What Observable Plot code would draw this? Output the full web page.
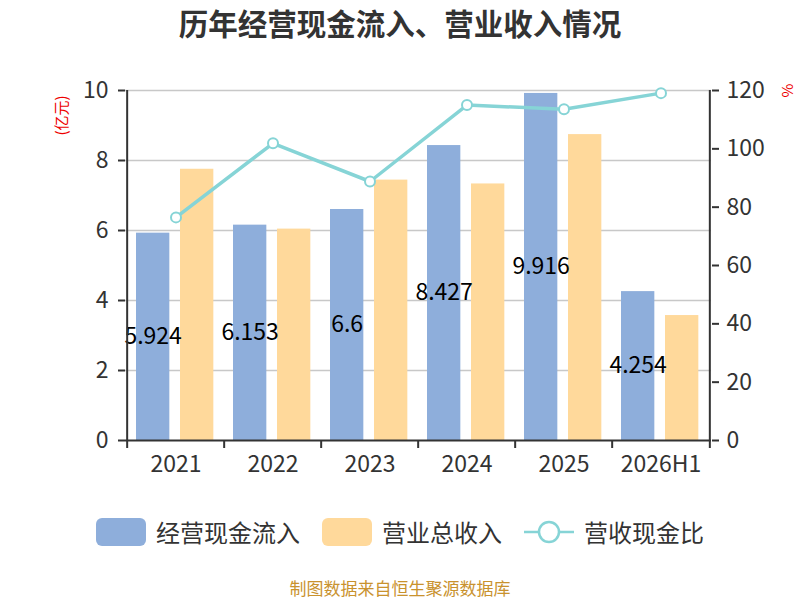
<!DOCTYPE html>
<html><head><meta charset="utf-8">
<script src="https://cdn.jsdelivr.net/npm/d3@7"></script>
<script src="https://cdn.jsdelivr.net/npm/@observablehq/plot@0.6"></script>
<style>
body{margin:0;background:#fff;font-family:"Noto Sans CJK SC","Noto Sans",sans-serif;}
#wrap{position:relative;width:800px;height:600px;}
#title{position:absolute;left:0;top:1px;width:800px;text-align:center;font-size:29.5px;font-weight:bold;color:#333;}
#chart{position:absolute;left:0;top:50px;}
.unit{position:absolute;color:#e00;font-size:15px;transform:rotate(-90deg);transform-origin:center;}
#legend{position:absolute;top:514px;left:0;width:800px;display:flex;justify-content:center;align-items:center;font-size:24px;color:#333;}
.item{display:flex;align-items:center;margin:0 11px;}
.sw{width:50px;height:28px;border-radius:6px;margin-right:10px;}
#caption{position:absolute;top:578px;left:0;width:800px;text-align:center;font-size:17px;line-height:19px;color:#c9922e;}
</style></head>
<body>
<div id="wrap">
<div id="title">历年经营现金流入、营业收入情况</div>
<div id="chart"></div>
<div class="unit" style="left:40px;top:105px;">(亿元)</div>
<div class="unit" style="left:780px;top:80px;">%</div>
<div id="legend"></div>
<div id="caption">制图数据来自恒生聚源数据库</div>
</div>
<script>
const years = ["2021","2022","2023","2024","2025","2026H1"];
const cashIn = [5.924, 6.153, 6.6, 8.427, 9.916, 4.254];
const revenue = [7.75, 6.04, 7.44, 7.33, 8.74, 3.57];
const ratio = [76.5, 101.9, 88.8, 115.0, 113.6, 119.1];
const leftTicks = [0, 2, 4, 6, 8, 10];
const rightTicks = [0, 20, 40, 60, 80, 100, 120];
const seriesNames = ["经营现金流入", "营业总收入", "营收现金比"];
const colors = ["#8eaedb", "#ffd99b", "#86d4d6"];

const W = 800, H = 440, mL = 125, mR = 89, mT = 40, mB = 50;
const bw = (W - mL - mR) / years.length;
const ratioToLeft = 10 / 120;
const cashRows = years.map((y, i) => ({year: y, v: cashIn[i]}));
const revRows = years.map((y, i) => ({year: y, v: revenue[i]}));
const ratioRows = years.map((y, i) => ({year: y, v: ratio[i] * ratioToLeft}));

const plot = Plot.plot({
  width: W, height: H, marginLeft: mL, marginRight: mR, marginTop: mT, marginBottom: mB,
  style: {fontFamily: '"Noto Sans CJK SC","Noto Sans",sans-serif', background: "#fff"},
  x: {type: "band", domain: years, padding: 0, label: null},
  y: {domain: [0, 10], label: null},
  marks: [
    Plot.ruleY(leftTicks.slice(1), {stroke: "#c8c8c8", strokeWidth: 1.5}),
    Plot.barY(cashRows, {x: "year", y: "v", fill: colors[0], insetLeft: 9, insetRight: bw - 43}),
    Plot.barY(revRows, {x: "year", y: "v", fill: colors[1], insetLeft: 53, insetRight: bw - 87}),
    Plot.line(ratioRows, {x: "year", y: "v", stroke: colors[2], strokeWidth: 3.5}),
    Plot.dot(ratioRows, {x: "year", y: "v", r: 5, fill: "#fff", stroke: colors[2], strokeWidth: 2}),
    Plot.text(cashRows, {x: "year", y: d => d.v / 2, text: d => String(d.v), dx: 26 - bw / 2, fontSize: 23, fill: "#000"}),
    Plot.ruleY([0], {stroke: "#333", strokeWidth: 2}),
    Plot.ruleX([years[0]], {dx: -bw / 2, stroke: "#333", strokeWidth: 2}),
    Plot.ruleX([years[years.length - 1]], {dx: bw / 2, stroke: "#333", strokeWidth: 2}),
    Plot.ruleX(years, {x: d => d, y1: 0, y2: 0, dx: -bw / 2, insetBottom: -8, stroke: "#333", strokeWidth: 2}),
    Plot.ruleX([years[years.length - 1]], {y1: 0, y2: 0, dx: bw / 2, insetBottom: -8, stroke: "#333", strokeWidth: 2}),
    Plot.axisX({tickSize: 0, tickPadding: 15, fontSize: 23, color: "#333", label: null}),
    Plot.axisY({anchor: "left", ticks: leftTicks, tickSize: 7, tickPadding: 10, fontSize: 23, color: "#333", strokeWidth: 2, label: null}),
    Plot.axisY({anchor: "right", ticks: rightTicks.map(v => v * ratioToLeft), tickFormat: d => Math.round(d / ratioToLeft), tickSize: 7, tickPadding: 8, fontSize: 23, color: "#333", strokeWidth: 2, label: null})
  ]
});
document.getElementById("chart").appendChild(plot);

const legend = document.getElementById("legend");
seriesNames.forEach((n, i) => {
  const it = document.createElement("div");
  it.className = "item";
  if (i < 2) {
    it.innerHTML = `<div class="sw" style="background:${colors[i]}"></div><span>${n}</span>`;
  } else {
    it.innerHTML = `<svg width="50" height="28" style="margin-right:10px"><line x1="0" y1="14" x2="50" y2="14" stroke="${colors[2]}" stroke-width="2.5"/><circle cx="25" cy="14" r="10" fill="#fff" stroke="${colors[2]}" stroke-width="2.5"/></svg><span>${n}</span>`;
  }
  legend.appendChild(it);
});
</script>
</body></html>
